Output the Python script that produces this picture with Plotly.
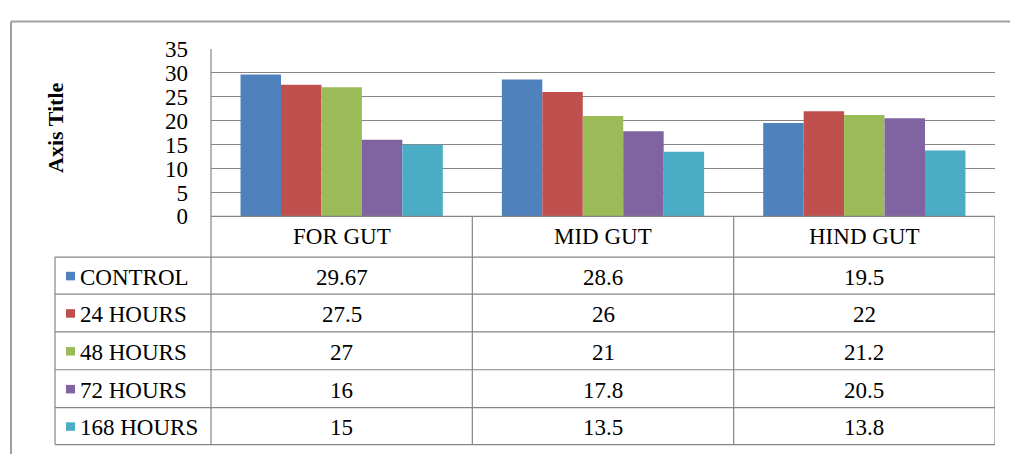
import plotly.graph_objects as go

categories = ["FOR GUT", "MID GUT", "HIND GUT"]
series_names = ["CONTROL", "24 HOURS", "48 HOURS", "72 HOURS", "168 HOURS"]
control = [29.67, 28.6, 19.5]
h24 = [27.5, 26, 22]
h48 = [27, 21, 21.2]
h72 = [16, 17.8, 20.5]
h168 = [15, 13.5, 13.8]
series_values = [control, h24, h48, h72, h168]
colors = ["#4F81BD", "#C0504D", "#9BBB59", "#8064A2", "#4BACC6"]
y_ticks = [0, 5, 10, 15, 20, 25, 30, 35]

W, H = 1010, 467
FONT = "Liberation Serif"
GRID = "#858585"
FS = 23


def px(x):
    return x / W


def py(y):
    return (H - y) / H


plot_left, plot_right, plot_top, plot_bottom = 211, 995, 39, 216
row_edges = [216, 259, 298, 338, 378, 418, 457]
table_left = 55

fig = go.Figure()
for name, vals, c in zip(series_names, series_values, colors):
    fig.add_trace(go.Bar(x=categories, y=vals, name=name,
                         marker=dict(color=c, line=dict(width=0))))

shapes = []
# outer chart border (only top and left visible; cropped elsewhere)
shapes.append(dict(type="line", xref="paper", yref="paper",
                   x0=px(11), x1=px(1010), y0=py(10), y1=py(10),
                   line=dict(color="#A0A0A0", width=2)))
shapes.append(dict(type="line", xref="paper", yref="paper",
                   x0=px(11), x1=px(11), y0=py(10), y1=py(467),
                   line=dict(color="#A0A0A0", width=2)))
# left axis line through table
shapes.append(dict(type="line", xref="paper", yref="paper",
                   x0=px(plot_left), x1=px(plot_left), y0=py(plot_top), y1=py(row_edges[-1]),
                   line=dict(color=GRID, width=1.2)))
# vertical table lines at category boundaries
for b in [0.5, 1.5, 2.5]:
    shapes.append(dict(type="line", xref="x", yref="paper",
                       x0=b, x1=b, y0=py(row_edges[0]), y1=py(row_edges[-1]),
                       line=dict(color=GRID, width=1.2)))
# header top line
shapes.append(dict(type="line", xref="paper", yref="paper",
                   x0=px(plot_left), x1=px(plot_right), y0=py(row_edges[0]), y1=py(row_edges[0]),
                   line=dict(color=GRID, width=1.2)))
# horizontal table lines
for ry in row_edges[1:]:
    shapes.append(dict(type="line", xref="paper", yref="paper",
                       x0=px(table_left), x1=px(plot_right), y0=py(ry), y1=py(ry),
                       line=dict(color=GRID, width=1.2)))
# legend column left border
shapes.append(dict(type="line", xref="paper", yref="paper",
                   x0=px(table_left), x1=px(table_left), y0=py(row_edges[1]), y1=py(row_edges[-1]),
                   line=dict(color=GRID, width=1.2)))

annotations = []
# header labels
hdr_y = (row_edges[0] + row_edges[1]) / 2
for i, cat in enumerate(categories):
    annotations.append(dict(x=i, y=py(hdr_y), xref="x", yref="paper", text=cat,
                            showarrow=False, font=dict(family=FONT, size=FS, color="black"),
                            xanchor="center", yanchor="middle"))
# rows
for r, (name, vals, c) in enumerate(zip(series_names, series_values, colors)):
    cy = (row_edges[r + 1] + row_edges[r + 2]) / 2
    shapes.append(dict(type="rect", xref="paper", yref="paper",
                       x0=px(66), x1=px(75), y0=py(cy + 5), y1=py(cy - 4)
                       , fillcolor=c, line=dict(width=0)))
    annotations.append(dict(x=px(78), y=py(cy + 2), xref="paper", yref="paper", text=name,
                            showarrow=False, font=dict(family=FONT, size=FS, color="black"),
                            xanchor="left", yanchor="middle"))
    for i, v in enumerate(vals):
        annotations.append(dict(x=i, y=py(cy + 2), xref="x", yref="paper", text=f"{v:g}",
                                showarrow=False, font=dict(family=FONT, size=FS, color="black"),
                                xanchor="center", yanchor="middle"))
# axis title
annotations.append(dict(x=px(56), y=py((plot_top + plot_bottom) / 2 - 5), xref="paper", yref="paper",
                        text="<b>Axis Title</b>", textangle=-90, showarrow=False,
                        font=dict(family=FONT, size=22, color="black"),
                        xanchor="center", yanchor="middle"))

fig.update_layout(
    width=W, height=H, autosize=False,
    margin=dict(l=0, r=0, t=0, b=0),
    paper_bgcolor="white", plot_bgcolor="white",
    font=dict(family=FONT, color="black"),
    barmode="group", bargap=0.226, bargroupgap=0,
    showlegend=False,
    shapes=shapes, annotations=annotations,
    xaxis=dict(domain=[px(plot_left), px(plot_right)], showticklabels=False,
               showgrid=False, zeroline=False, showline=False, range=[-0.5, 2.5]),
    yaxis=dict(domain=[py(plot_bottom), py(plot_top)], range=[0, 35],
               tickvals=y_ticks, showgrid=True, gridcolor=GRID, gridwidth=1.2,
               zeroline=False, showline=False, ticks="",
               ticklabelstandoff=22,
               tickfont=dict(family=FONT, size=FS, color="black")),
)

fig.write_html("out.html")
